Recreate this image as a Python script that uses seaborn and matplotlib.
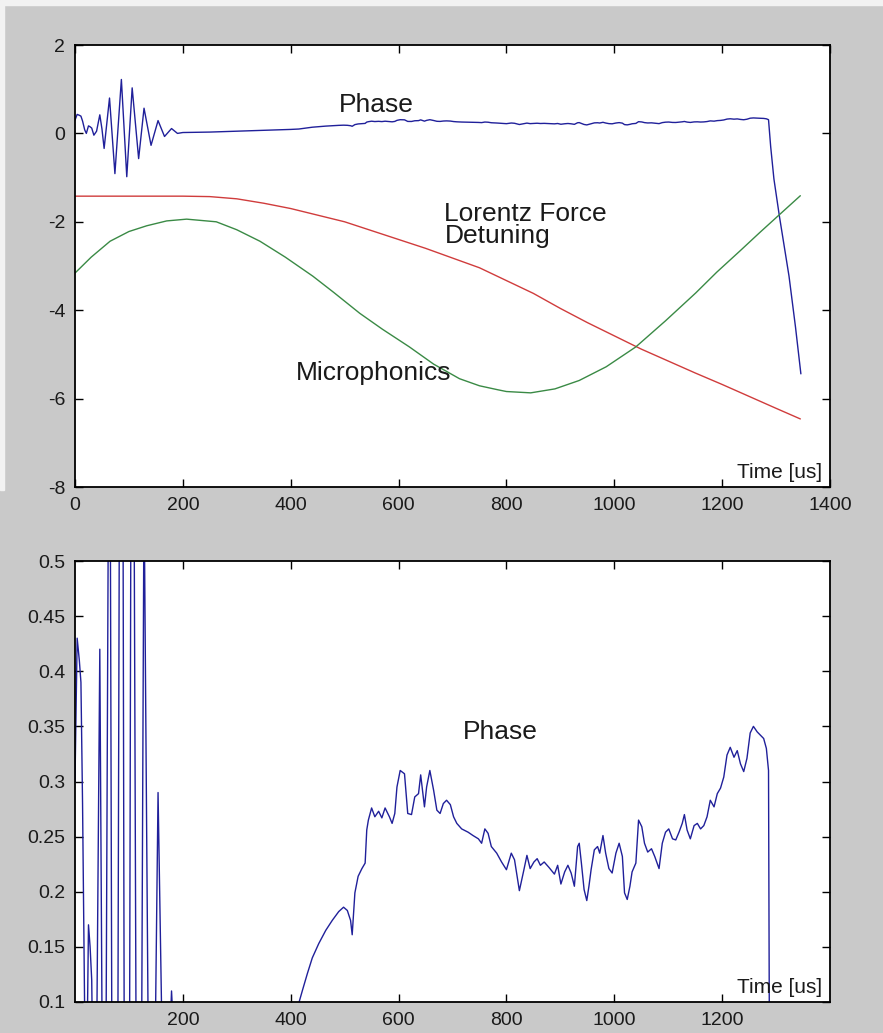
import matplotlib
matplotlib.use("Agg")
import matplotlib.pyplot as plt
from matplotlib.patches import Rectangle
import seaborn as sns

# ---------------- data ----------------
phase_t = [0, 4, 8, 11, 14, 18, 21, 25, 28, 31, 35, 40, 46, 50, 54, 64, 74, 86, 96, 106,
           118, 128, 141, 154, 166, 179, 190, 200, 250, 300, 350, 400, 415,
           422, 431, 440, 452, 465, 477, 489, 498, 505, 511, 514, 519, 525, 532, 538,
           541, 544, 550, 556, 563, 569, 575, 583, 588, 593, 597, 603, 611, 617, 624,
           630, 637, 641, 648, 652, 658, 665, 671, 677, 683, 689, 696, 702, 708, 717,
           729, 738, 748, 754, 760, 766, 772, 782, 791, 800, 809, 815, 824, 832, 838,
           844, 851, 857, 863, 870, 879, 889, 895, 901, 908, 914, 920, 926, 932, 935,
           939, 944, 949, 953, 957, 963, 969, 973, 979, 984, 990, 996, 1003, 1009,
           1015, 1019, 1024, 1029, 1033, 1040, 1045, 1051, 1056, 1062, 1069, 1075,
           1083, 1089, 1095, 1101, 1108, 1114, 1120, 1126, 1130, 1135, 1141, 1148,
           1154, 1160, 1166, 1172, 1178, 1185, 1191, 1197, 1203, 1209, 1215, 1222,
           1228, 1234, 1240, 1246, 1252, 1258, 1265, 1271, 1277, 1282, 1286, 1290,
           1296, 1306, 1324, 1336, 1346]
phase_v = [0.30, 0.43, 0.41, 0.39, 0.28, 0.08, 0.00, 0.17, 0.15, 0.12, -0.04, 0.05, 0.42,
           0.10, -0.34, 0.80, -0.91, 1.22, -0.98, 1.03, -0.57, 0.57, -0.27, 0.29, -0.07,
           0.11, 0.00, 0.02, 0.03, 0.05, 0.07, 0.09, 0.099,
           0.111, 0.126, 0.140, 0.153, 0.165, 0.174, 0.182, 0.186, 0.183, 0.174, 0.161,
           0.199, 0.214, 0.221, 0.226, 0.256, 0.265, 0.276, 0.268, 0.273, 0.267, 0.276,
           0.268, 0.262, 0.271, 0.295, 0.310, 0.307, 0.271, 0.270, 0.286, 0.289, 0.306,
           0.277, 0.295, 0.310, 0.292, 0.274, 0.271, 0.280, 0.283, 0.279, 0.268, 0.262,
           0.257, 0.254, 0.251, 0.248, 0.244, 0.257, 0.253, 0.241, 0.235, 0.227, 0.220,
           0.235, 0.229, 0.201, 0.219, 0.233, 0.221, 0.227, 0.230, 0.224, 0.227, 0.222,
           0.216, 0.224, 0.207, 0.218, 0.224, 0.217, 0.205, 0.241, 0.244, 0.226, 0.202,
           0.192, 0.205, 0.220, 0.238, 0.241, 0.235, 0.251, 0.235, 0.221, 0.217, 0.235,
           0.244, 0.232, 0.199, 0.193, 0.205, 0.218, 0.226, 0.265, 0.259, 0.244, 0.236,
           0.239, 0.232, 0.221, 0.244, 0.254, 0.257, 0.248, 0.247, 0.254, 0.262, 0.270,
           0.256, 0.248, 0.260, 0.262, 0.257, 0.260, 0.268, 0.283, 0.277, 0.289, 0.294,
           0.304, 0.324, 0.331, 0.322, 0.328, 0.316, 0.309, 0.321, 0.344, 0.350, 0.345,
           0.342, 0.339, 0.330, 0.310, -0.30, -1.03, -1.86, -3.23, -4.38, -5.44]

lorentz_t = [0, 100, 200, 250, 300, 350, 400, 450, 500, 550, 600, 650, 700, 750, 800,
             850, 900, 950, 1000, 1050, 1100, 1150, 1200, 1250, 1300, 1345]
lorentz_v = [-1.42, -1.42, -1.42, -1.43, -1.48, -1.58, -1.70, -1.85, -2.00, -2.20, -2.40,
             -2.60, -2.82, -3.04, -3.33, -3.62, -3.96, -4.28, -4.58, -4.88, -5.15, -5.42,
             -5.68, -5.95, -6.22, -6.46]

micro_t = [0, 30, 65, 100, 133, 170, 207, 262, 300, 343, 390, 441, 480, 528, 570, 620,
           665, 713, 750, 784, 800, 845, 890, 935, 985, 1040, 1095, 1151, 1190, 1233,
           1270, 1307, 1345]
micro_v = [-3.16, -2.80, -2.44, -2.22, -2.09, -1.98, -1.94, -2.00, -2.18, -2.44, -2.80,
           -3.23, -3.60, -4.07, -4.43, -4.83, -5.22, -5.55, -5.71, -5.80, -5.84, -5.87,
           -5.78, -5.59, -5.28, -4.83, -4.24, -3.61, -3.14, -2.66, -2.24, -1.83, -1.41]

top_xticks = [0, 200, 400, 600, 800, 1000, 1200, 1400]
top_yticks = [-8, -6, -4, -2, 0, 2]
bottom_xticks = [200, 400, 600, 800, 1000, 1200]
bottom_yticks = [0.1, 0.15, 0.2, 0.25, 0.3, 0.35, 0.4, 0.45, 0.5]
bottom_ytick_labels = ["0.1", "0.15", "0.2", "0.25", "0.3", "0.35", "0.4", "0.45", "0.5"]

# ---------------- style ----------------
sns.set_theme(style="white")
plt.rcParams["font.family"] = ["Liberation Sans", "DejaVu Sans"]
plt.rcParams["axes.unicode_minus"] = False

PHASE_C = "#20209a"
LORENTZ_C = "#d03c3c"
MICRO_C = "#3a8a45"
BG = "#c9c9c9"
TXT = "#1a1a1a"

W, H = 883, 1033
fig = plt.figure(figsize=(W / 100, H / 100), dpi=100, facecolor=BG)
fig.patches.append(Rectangle((0, 1 - 5 / H), 1, 5 / H, transform=fig.transFigure,
                             color="#f2f2f2", zorder=0))
fig.patches.append(Rectangle((0, 1 - 490 / H), 4 / W, 490 / H, transform=fig.transFigure,
                             color="#f2f2f2", zorder=0))

ax1 = fig.add_axes([75 / W, 1 - 487 / H, 755 / W, 442 / H])
ax2 = fig.add_axes([75 / W, 1 - 1002 / H, 755 / W, 441 / H])

# top panel
sns.lineplot(x=phase_t, y=phase_v, ax=ax1, color=PHASE_C, linewidth=1.0,
             sort=False, estimator=None)
sns.lineplot(x=lorentz_t, y=lorentz_v, ax=ax1, color=LORENTZ_C, linewidth=1.0,
             sort=False, estimator=None)
sns.lineplot(x=micro_t, y=micro_v, ax=ax1, color=MICRO_C, linewidth=1.0,
             sort=False, estimator=None)
ax1.set_xlim(0, 1400)
ax1.set_ylim(-8, 2)
ax1.set_xticks(top_xticks)
ax1.set_xticklabels([str(v) for v in top_xticks])
ax1.set_yticks(top_yticks)
ax1.set_yticklabels([str(v) for v in top_yticks])

ax1.text(559, 0.64, "Phase", ha="center", va="center", fontsize=19, color=TXT)
ax1.text(685, -1.56, "Lorentz Force\nDetuning", ha="left", va="top", fontsize=19,
         linespacing=0.86, color=TXT)
ax1.text(409, -5.42, "Microphonics", ha="left", va="center", fontsize=19, color=TXT)
ax1.text(0.99, 0.012, "Time [us]", transform=ax1.transAxes, ha="right", va="bottom",
         fontsize=15, color=TXT)

# bottom panel (zoom of the phase)
sns.lineplot(x=phase_t, y=phase_v, ax=ax2, color=PHASE_C, linewidth=1.0,
             sort=False, estimator=None)
ax2.set_xlim(0, 1400)
ax2.set_ylim(0.1, 0.5)
ax2.set_xticks(bottom_xticks)
ax2.set_xticklabels([str(v) for v in bottom_xticks])
ax2.set_yticks(bottom_yticks)
ax2.set_yticklabels(bottom_ytick_labels)
ax2.text(789, 0.345, "Phase", ha="center", va="center", fontsize=19, color=TXT)
ax2.text(0.99, 0.012, "Time [us]", transform=ax2.transAxes, ha="right", va="bottom",
         fontsize=15, color=TXT)

for ax in (ax1, ax2):
    ax.set_facecolor("white")
    ax.set_xlabel("")
    ax.set_ylabel("")
    for s in ax.spines.values():
        s.set_visible(True)
        s.set_color("black")
        s.set_linewidth(1.3)
    ax.tick_params(direction="in", length=6, width=1.0, top=True, right=True,
                   bottom=True, left=True, labelsize=14, pad=7, colors="black",
                   labelcolor=TXT)
    ax.grid(False)

fig.savefig("out.png", dpi=100, facecolor=BG)
